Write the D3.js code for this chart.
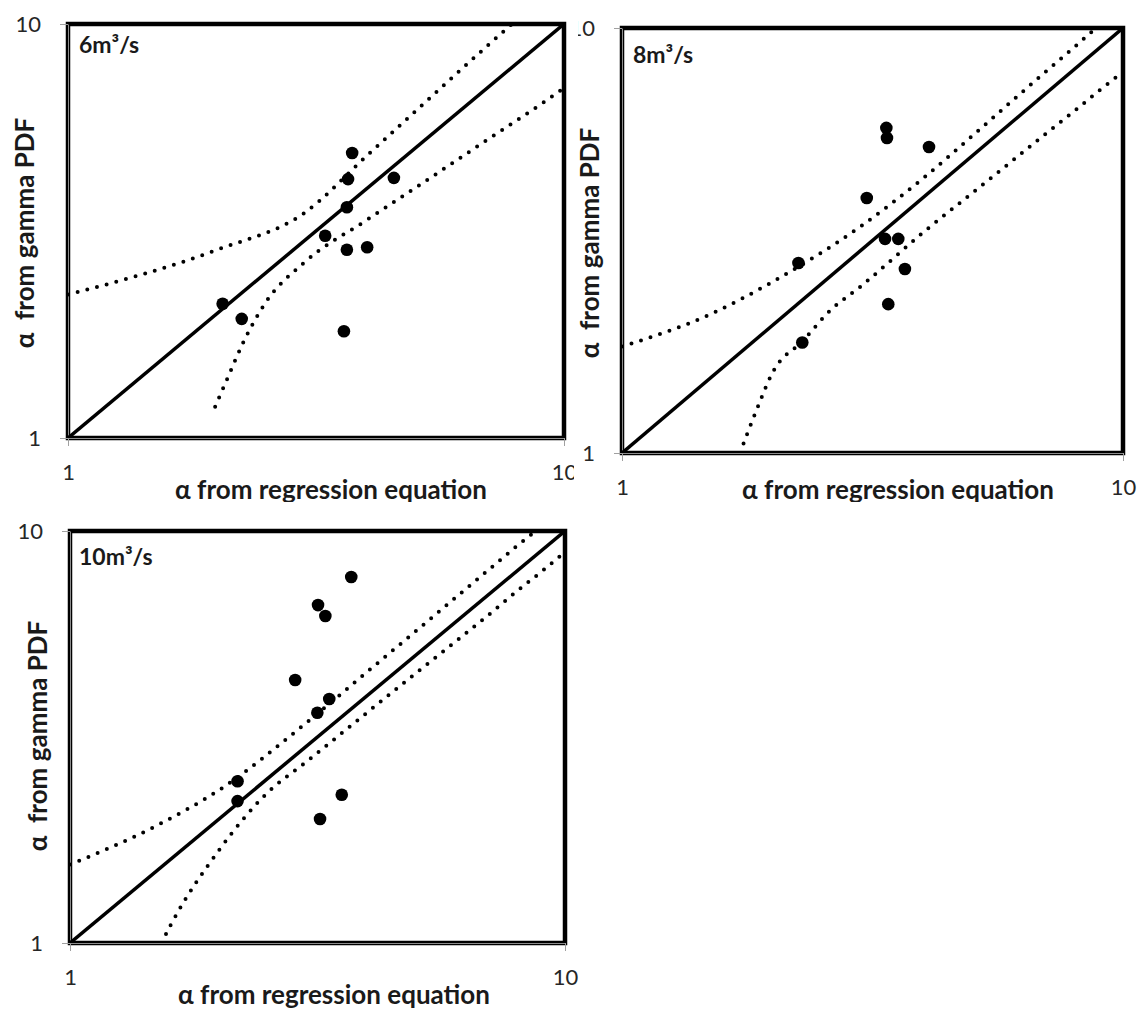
<!DOCTYPE html>
<html><head><meta charset="utf-8">
<script src="https://cdn.jsdelivr.net/npm/d3@7"></script>
<style>
  body { margin: 0; background: #fff; }
  svg { display: block; }
  text { font-family: Lato, "Open Sans", sans-serif; }
</style>
</head><body>
<svg id="fig" width="1148" height="1010"></svg>
<script>
// ---- data: alpha estimated by regression vs. alpha fitted from gamma PDF ----
const flowLabels = ["6m³/s", "8m³/s", "10m³/s"];
const axisTicks = [1, 10];
const xTitle = "α from regression equation";
const yTitle = "α  from gamma PDF";

// 6 m3/s
const reg6 = [2.05, 2.24, 3.74, 3.67, 4.54, 3.65, 3.30, 3.65, 4.01, 3.60];
const gam6 = [2.11, 1.94, 4.88, 4.22, 4.25, 3.61, 3.08, 2.85, 2.89, 1.81];
const up6X = [1, 2, 3, 4, 5, 6, 7, 8];
const up6Y = [2.22, 2.85, 3.50, 4.80, 6.13, 7.49, 8.85, 10.2];
const lo6X = [1.98, 2.1, 2.25, 2.5, 3, 4, 5, 6, 7, 8, 9, 10];
const lo6Y = [1.19, 1.40, 1.69, 2.12, 2.66, 3.36, 4.01, 4.64, 5.25, 5.83, 6.41, 7.00];

// 8 m3/s
const reg8 = [3.37, 3.38, 4.10, 3.08, 3.35, 3.56, 2.25, 3.67, 3.40, 2.29];
const gam8 = [5.82, 5.51, 5.25, 3.98, 3.19, 3.19, 2.80, 2.71, 2.24, 1.82];
const up8X = [1, 1.5, 2, 3, 4, 5, 6, 7, 8, 9];
const up8Y = [1.78, 2.12, 2.53, 3.42, 4.44, 5.57, 6.73, 7.88, 9.02, 10.2];
const lo8X = [1.72, 1.85, 2, 2.3, 2.6, 3, 4, 5, 6, 7, 8, 9, 10];
const lo8Y = [1.00, 1.25, 1.55, 1.84, 2.16, 2.47, 3.31, 4.09, 4.86, 5.63, 6.38, 7.15, 7.88];

// 10 m3/s
const reg10 = [3.70, 3.17, 3.28, 2.85, 3.34, 3.16, 2.18, 2.18, 3.54, 3.20];
const gam10 = [7.73, 6.61, 6.22, 4.35, 3.91, 3.62, 2.47, 2.21, 2.29, 2.00];
const up10X = [1, 1.5, 2, 3, 4, 5, 6, 7, 8, 9];
const up10Y = [1.55, 1.93, 2.35, 3.42, 4.57, 5.72, 6.88, 8.04, 9.20, 10.3];
const lo10X = [1.53, 1.6, 2, 2.5, 3, 4, 5, 6, 7, 8, 9, 10];
const lo10Y = [1.00, 1.11, 1.68, 2.31, 2.75, 3.64, 4.52, 5.38, 6.25, 7.15, 8.00, 8.89];

// ---- layout of the three scatter panels ----
const panels = [
  { label: flowLabels[0], reg: reg6, gam: gam6, upX: up6X, upY: up6Y, loX: lo6X, loY: lo6Y,
    box: { x: 0, y: 0, w: 574, h: 502 },
    plot: { l: 68, t: 24, r: 564, b: 438 },
    labelAt: [79, 53], yTitleAt: [26, 233], xTitleAt: [331, 499] },
  { label: flowLabels[1], reg: reg8, gam: gam8, upX: up8X, upY: up8Y, loX: lo8X, loY: lo8Y,
    box: { x: 578, y: 0, w: 570, h: 502 },
    plot: { l: 622, t: 28, r: 1123, b: 453 },
    labelAt: [633, 63], yTitleAt: [591, 243], xTitleAt: [898, 499] },
  { label: flowLabels[2], reg: reg10, gam: gam10, upX: up10X, upY: up10Y, loX: lo10X, loY: lo10Y,
    box: { x: 0, y: 505, w: 620, h: 505 },
    plot: { l: 70, t: 531, r: 565, b: 943 },
    labelAt: [79, 565], yTitleAt: [39, 736], xTitleAt: [334, 1004] }
];

const svg = d3.select("#fig");
const defs = svg.append("defs");

panels.forEach((p, i) => {
  const x = d3.scaleLog().domain([1, 10]).range([p.plot.l, p.plot.r]);
  const y = d3.scaleLog().domain([1, 10]).range([p.plot.b, p.plot.t]);

  // each chart only paints inside its own box
  defs.append("clipPath").attr("id", "box" + i)
    .append("rect").attr("x", p.box.x).attr("y", p.box.y).attr("width", p.box.w).attr("height", p.box.h);
  defs.append("clipPath").attr("id", "plot" + i)
    .append("rect").attr("x", p.plot.l).attr("y", p.plot.t)
    .attr("width", p.plot.r - p.plot.l).attr("height", p.plot.b - p.plot.t);

  const g = svg.append("g").attr("clip-path", `url(#box${i})`);

  // plot-area border
  g.append("rect")
    .attr("x", p.plot.l).attr("y", p.plot.t)
    .attr("width", p.plot.r - p.plot.l).attr("height", p.plot.b - p.plot.t)
    .attr("fill", "none").attr("stroke", "#000").attr("stroke-width", 4.5);

  // axes
  const fmt = d3.format("d");
  const xAxis = g.append("g").attr("transform", `translate(0,${p.plot.b})`)
    .call(d3.axisBottom(x).tickValues(axisTicks).tickFormat(fmt).tickSize(8).tickSizeOuter(0).tickPadding(18));
  const yAxis = g.append("g").attr("transform", `translate(${p.plot.l},0)`)
    .call(d3.axisLeft(y).tickValues(axisTicks).tickFormat(fmt).tickSize(8).tickSizeOuter(0).tickPadding(19));
  [xAxis, yAxis].forEach(a => {
    a.select(".domain").attr("stroke", "#8c8c8c").attr("stroke-width", 1);
    a.selectAll(".tick line").attr("stroke", "#a0a0a0").attr("stroke-width", 1);
    a.selectAll(".tick text").attr("font-size", 22).attr("fill", "#262626")
      .attr("font-family", "Lato, 'Open Sans', sans-serif");
  });

  // confidence bands and the 1:1 line
  const band = d3.line().x(d => x(d[0])).y(d => y(d[1])).curve(d3.curveMonotoneX);
  const line = d3.line().x(d => x(d[0])).y(d => y(d[1]));
  const lines = g.append("g").attr("clip-path", `url(#plot${i})`);
  [[p.upX, p.upY], [p.loX, p.loY]].forEach(([xs, ys]) => {
    lines.append("path")
      .attr("d", band(xs.map((v, k) => [v, ys[k]])))
      .attr("fill", "none").attr("stroke", "#000").attr("stroke-width", 4)
      .attr("stroke-linecap", "round").attr("stroke-dasharray", "0 10");
  });
  lines.append("path")
    .attr("d", line([[1, 1], [10, 10]]))
    .attr("fill", "none").attr("stroke", "#000").attr("stroke-width", 3.5);

  // observations
  g.append("g").selectAll("circle")
    .data(p.reg.map((v, k) => [v, p.gam[k]]))
    .join("circle")
    .attr("cx", d => x(d[0])).attr("cy", d => y(d[1])).attr("r", 6.3)
    .attr("fill", "#000");

  // panel label and axis titles
  g.append("text").attr("x", p.labelAt[0]).attr("y", p.labelAt[1])
    .attr("font-size", 23).attr("font-weight", "bold").attr("fill", "#1a1a1a")
    .text(p.label);
  g.append("text").attr("x", p.xTitleAt[0]).attr("y", p.xTitleAt[1])
    .attr("text-anchor", "middle").attr("font-size", 26).attr("font-weight", "bold")
    .attr("fill", "#1a1a1a").text(xTitle);
  g.append("text")
    .attr("transform", `translate(${p.yTitleAt[0] + 8},${p.yTitleAt[1]}) rotate(-90)`)
    .attr("text-anchor", "middle").attr("font-size", 26).attr("font-weight", "bold")
    .attr("fill", "#1a1a1a").style("white-space", "pre").text(yTitle);
});
</script>
</body></html>
